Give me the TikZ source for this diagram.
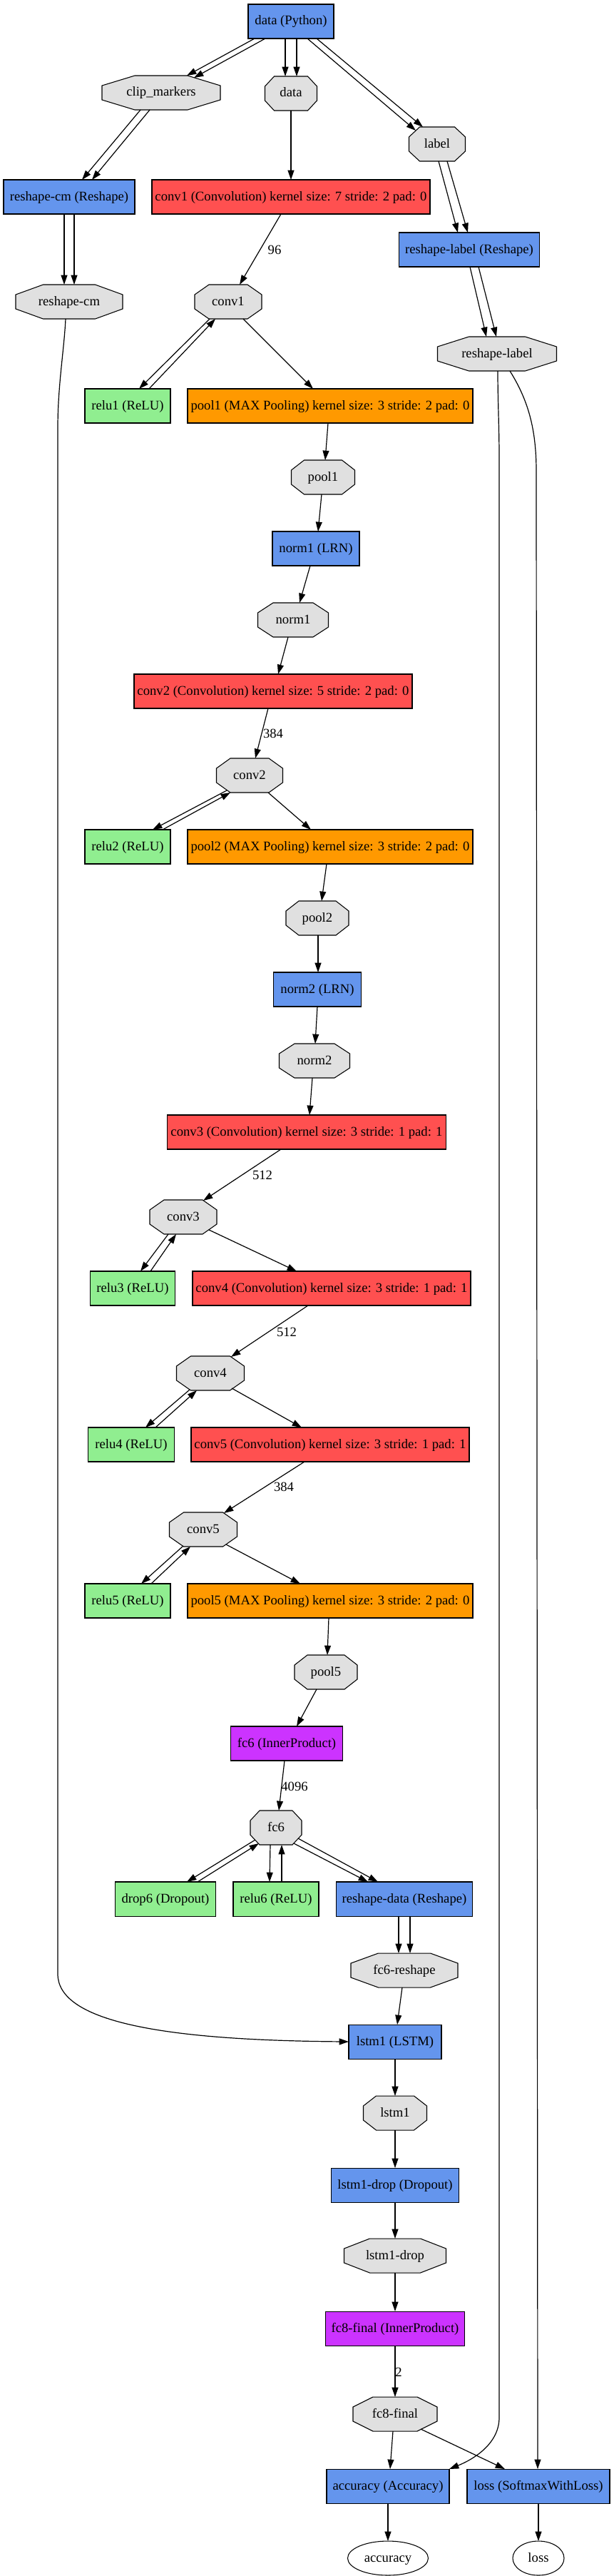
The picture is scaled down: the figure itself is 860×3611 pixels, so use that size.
\documentclass[tikz,border=0pt]{standalone}
\usepackage{fontspec}
\setmainfont{Liberation Serif}
\usetikzlibrary{arrows.meta,calc,shapes.geometric}
\definecolor{convc}{HTML}{FF5050}
\definecolor{poolc}{HTML}{FF9900}
\definecolor{ipc}{HTML}{CC33FF}
\definecolor{otherc}{HTML}{6495ED}
\definecolor{neurc}{HTML}{90EE90}
\definecolor{blobc}{HTML}{E0E0E0}
\pgfdeclarelayer{paper}
\pgfdeclarelayer{octs}
\pgfsetlayers{paper,octs,main}
\tikzset{
  every node/.style={font=\fontsize{14}{16}\selectfont, outer sep=0pt},
  nw/.style={minimum width=#1*0.75pt},
  lay/.style={draw=black, line width=0.8pt, minimum height=36pt, inner xsep=2pt, inner ysep=0pt, text height=10pt, text depth=2.5pt},
  conv/.style={lay, fill=convc},
  pool/.style={lay, fill=poolc},
  ip/.style={lay, fill=ipc},
  other/.style={lay, fill=otherc},
  neur/.style={lay, fill=neurc},
  blob/.style={draw=none, minimum height=36pt, inner xsep=2pt, inner ysep=0pt, text height=10pt, text depth=2.5pt},
  blobline/.style={draw=black, fill=blobc, line width=0.8pt, line join=miter},
  outb/.style={ellipse, draw=black, line width=0.8pt, minimum height=36pt, inner sep=0pt, text height=10pt, text depth=2.5pt},
  elab/.style={inner sep=0pt},
  edge/.style={line width=0.9pt, -{Triangle[length=10pt, width=6.7pt]}},
}
\newcommand\blobshape[2]{\begin{pgfonlayer}{octs}\draw[blobline] ($(#1.north west)+(#2,0)$) -- ($(#1.north east)+(-#2,0)$) -- ($(#1.north east)+(0,14)$) -- ($(#1.south east)+(0,-14)$) -- ($(#1.south east)+(-#2,0)$) -- ($(#1.south west)+(#2,0)$) -- ($(#1.south west)+(0,-14)$) -- ($(#1.north west)+(0,14)$) -- cycle;\end{pgfonlayer}}
\begin{document}
\begin{tikzpicture}[x=0.75pt, y=-0.75pt]
\begin{pgfonlayer}{paper}
\fill[white] (0,0) rectangle (860,3611);
\end{pgfonlayer}
\path[use as bounding box] (0,0) rectangle (860,3611);

% ---- nodes ----
\node[other, nw=120] (dpy) at (408,30) {data (Python)};
\node[blob, nw=166] (clip) at (226,130) {clip\_markers}; \blobshape{clip}{46}
\node[blob, nw=73] (data) at (408,131) {data}; \blobshape{data}{13}
\node[blob, nw=79] (label) at (613,202) {label}; \blobshape{label}{15}
\node[other, nw=184] (rcm) at (97,276) {reshape-cm (Reshape)};
\node[conv, nw=390] (conv1L) at (408,276) {conv1 (Convolution) kernel size: 7 stride: 2 pad: 0};
\node[other, nw=197] (rlab) at (658,350) {reshape-label (Reshape)};
\node[blob, nw=150] (rcmB) at (97,423) {reshape-cm}; \blobshape{rcmB}{38.5}
\node[blob, nw=94] (conv1B) at (320,423) {conv1}; \blobshape{conv1B}{20}
\node[blob, nw=167] (rlabB) at (697,496) {reshape-label}; \blobshape{rlabB}{44}
\node[neur, nw=120] (relu1) at (179,569) {relu1 (ReLU)};
\node[pool, nw=400] (pool1L) at (463,569) {pool1 (MAX Pooling) kernel size: 3 stride: 2 pad: 0};
\node[blob, nw=89] (pool1B) at (453,669) {pool1}; \blobshape{pool1B}{18}
\node[other, nw=122] (norm1L) at (443,769) {norm1 (LRN)};
\node[blob, nw=99] (norm1B) at (411,869) {norm1}; \blobshape{norm1B}{21.5}
\node[conv, nw=390] (conv2L) at (383,969) {conv2 (Convolution) kernel size: 5 stride: 2 pad: 0};
\node[blob, nw=93] (conv2B) at (350,1087) {conv2}; \blobshape{conv2B}{19.5}
\node[neur, nw=120] (relu2) at (179,1187) {relu2 (ReLU)};
\node[pool, nw=400] (pool2L) at (463,1187) {pool2 (MAX Pooling) kernel size: 3 stride: 2 pad: 0};
\node[blob, nw=88] (pool2B) at (445,1287) {pool2}; \blobshape{pool2B}{18}
\node[other, nw=123] (norm2L) at (445,1387) {norm2 (LRN)};
\node[blob, nw=99] (norm2B) at (441,1487) {norm2}; \blobshape{norm2B}{21.5}
\node[conv, nw=391] (conv3L) at (430,1587) {conv3 (Convolution) kernel size: 3 stride: 1 pad: 1};
\node[blob, nw=94] (conv3B) at (257,1706) {conv3}; \blobshape{conv3B}{20}
\node[neur, nw=119] (relu3) at (186,1806) {relu3 (ReLU)};
\node[conv, nw=390] (conv4L) at (465,1806) {conv4 (Convolution) kernel size: 3 stride: 1 pad: 1};
\node[blob, nw=95] (conv4B) at (295,1925) {conv4}; \blobshape{conv4B}{20}
\node[neur, nw=121] (relu4) at (184,2025) {relu4 (ReLU)};
\node[conv, nw=390] (conv5L) at (463,2025) {conv5 (Convolution) kernel size: 3 stride: 1 pad: 1};
\node[blob, nw=95] (conv5B) at (285,2144) {conv5}; \blobshape{conv5B}{20}
\node[neur, nw=120] (relu5) at (179,2244) {relu5 (ReLU)};
\node[pool, nw=400] (pool5L) at (463,2244) {pool5 (MAX Pooling) kernel size: 3 stride: 2 pad: 0};
\node[blob, nw=88] (pool5B) at (457,2344) {pool5}; \blobshape{pool5B}{18}
\node[ip, nw=157] (fc6L) at (402,2444) {fc6 (InnerProduct)};
\node[blob, nw=72] (fc6B) at (387,2562) {fc6}; \blobshape{fc6B}{13}
\node[neur, nw=141] (drop6) at (232,2662) {drop6 (Dropout)};
\node[neur, nw=120] (relu6) at (387,2662) {relu6 (ReLU)};
\node[other, nw=191] (rdata) at (567,2662) {reshape-data (Reshape)};
\node[blob, nw=150] (fc6rB) at (567,2762) {fc6-reshape}; \blobshape{fc6rB}{38.5}
\node[other, nw=130] (lstm1L) at (554,2862) {lstm1 (LSTM)};
\node[blob, nw=89] (lstm1B) at (554,2962) {lstm1}; \blobshape{lstm1B}{18}
\node[other, nw=179] (ldL) at (554,3063) {lstm1-drop (Dropout)};
\node[blob, nw=143] (ldB) at (554,3162) {lstm1-drop}; \blobshape{ldB}{36}
\node[ip, nw=195] (fc8L) at (554,3264) {fc8-final (InnerProduct)};
\node[blob, nw=118] (fc8B) at (554,3384) {fc8-final}; \blobshape{fc8B}{28}
\node[other, nw=172] (accL) at (544,3485) {accuracy (Accuracy)};
\node[other, nw=200] (lossL) at (755,3485) {loss (SoftmaxWithLoss)};
\node[outb, nw=113] (accB) at (544,3586) {accuracy};
\node[outb, nw=72] (lossB) at (755,3586) {loss};

% ---- edge labels ----
\node[elab] (e96) at (385,350) {96};
\node[elab] (e384a) at (383,1028) {384};
\node[elab] (e512a) at (368,1647) {512};
\node[elab] (e512b) at (402,1867) {512};
\node[elab] (e384b) at (398,2084) {384};
\node[elab] (e4096) at (413,2504) {4096};
\node[elab] (e2) at (559,3325) {2};

% ---- helper coordinates ----
\coordinate (cmA) at (81,600);
\coordinate (cmB) at (81,2767);
\coordinate (raA) at (700,640);
\coordinate (raB) at (700,3389);
\coordinate (rlC) at (752,660);

% ---- edges ----
\draw[edge] ($(dpy.south)+(-51,0)$) -- ($(clip.north)+(36,0)$);
\draw[edge] ($(dpy.south)+(-36,0)$) -- ($(clip.north)+(46,3)$);
\draw[edge] ($(dpy.south)+(-8,0)$) -- ($(data.north)+(-8,0)$);
\draw[edge] ($(dpy.south)+(8,0)$) -- ($(data.north)+(8,0)$);
\draw[edge] ($(dpy.south)+(23,0)$) -- ($(label.north)+(-30,5)$);
\draw[edge] ($(dpy.south)+(36,0)$) -- ($(label.north)+(-20,0)$);
\draw[edge] ($(clip.south)+(-29,0)$) -- ($(rcm.north)+(18,0)$);
\draw[edge] ($(clip.south)+(-16,0)$) -- ($(rcm.north)+(32,0)$);
\draw[edge] (data.south) -- (conv1L.north);
\draw[edge] ($(label.south)+(2,0)$) -- ($(rlab.north)+(-16,0)$);
\draw[edge] ($(label.south)+(14,0)$) -- ($(rlab.north)+(-2,0)$);
\draw[edge] ($(rcm.south)+(-7,0)$) -- ($(rcmB.north)+(-7,0)$);
\draw[edge] ($(rcm.south)+(7,0)$) -- ($(rcmB.north)+(7,0)$);
\draw[edge] ($(conv1L.south)+(-14,0)$) -- ($(conv1B.north)+(16,0)$);
\draw[edge] ($(rlab.south)+(1,0)$) -- ($(rlabB.north)+(-15,0)$);
\draw[edge] ($(rlab.south)+(13,0)$) -- ($(rlabB.north)+(-1,0)$);
\draw[edge] ($(rcmB.south)+(-5,0)$) .. controls (90,490) and (81,540) .. (cmA) -- (cmB) .. controls (81,2832) and (220,2860) .. (lstm1L.west);
\draw[edge] ($(conv1B.south)+(-26,0)$) -- ($(relu1.north)+(16,0)$);
\draw[edge] ($(relu1.north)+(30,0)$) -- ($(conv1B.south)+(-18,0)$);
\draw[edge] ($(conv1B.south)+(21,0)$) -- ($(pool1L.north)+(-24,0)$);
\draw[edge] ($(pool1L.south)+(-3,0)$) -- ($(pool1B.north)+(3,0)$);
\draw[edge] ($(pool1B.south)+(-2,0)$) -- ($(norm1L.north)+(3,0)$);
\draw[edge] ($(norm1L.south)+(-8,0)$) -- ($(norm1B.north)+(9,0)$);
\draw[edge] ($(norm1B.south)+(-7,0)$) -- ($(conv2L.north)+(7,0)$);
\draw[edge] ($(conv2L.south)+(-7,0)$) -- ($(conv2B.north)+(8,0)$);
\draw[edge] ($(conv2B.south)+(-32,-3)$) -- ($(relu2.north)+(35,0)$);
\draw[edge] ($(relu2.north)+(49,0)$) -- ($(conv2B.south)+(-27,0)$);
\draw[edge] ($(conv2B.south)+(26,0)$) -- ($(pool2L.north)+(-27,0)$);
\draw[edge] ($(pool2L.south)+(-5,0)$) -- ($(pool2B.north)+(6,0)$);
\draw[edge] ($(pool2B.south)+(1,0)$) -- ($(norm2L.north)+(1,0)$);
\draw[edge] (norm2L.south) -- ($(norm2B.north)+(1,0)$);
\draw[edge] ($(norm2B.south)+(-3,0)$) -- ($(conv3L.north)+(4,0)$);
\draw[edge] ($(conv3L.south)+(-36,0)$) -- ($(conv3B.north)+(28,1)$);
\draw[edge] ($(conv3B.south)+(-21,0)$) -- ($(relu3.north)+(11,0)$);
\draw[edge] ($(relu3.north)+(25,0)$) -- ($(conv3B.south)+(-10,0)$);
\draw[edge] ($(conv3B.south)+(36,-6)$) -- ($(conv4L.north)+(-49,0)$);
\draw[edge] ($(conv4L.south)+(-33,0)$) -- ($(conv4B.north)+(29,1)$);
\draw[edge] ($(conv4B.south)+(-29,-1)$) -- ($(relu4.north)+(20,0)$);
\draw[edge] ($(relu4.north)+(34,0)$) -- ($(conv4B.south)+(-19,0)$);
\draw[edge] ($(conv4B.south)+(30,-3)$) -- ($(conv5L.north)+(-40,0)$);
\draw[edge] ($(conv5L.south)+(-36,0)$) -- ($(conv5B.north)+(29,1)$);
\draw[edge] ($(conv5B.south)+(-28,-1)$) -- ($(relu5.north)+(19,0)$);
\draw[edge] ($(relu5.north)+(33,0)$) -- ($(conv5B.south)+(-18,0)$);
\draw[edge] ($(conv5B.south)+(32,-3)$) -- ($(pool5L.north)+(-42,0)$);
\draw[edge] ($(pool5L.south)+(-2,0)$) -- ($(pool5B.north)+(2,0)$);
\draw[edge] ($(pool5B.south)+(-13,0)$) -- ($(fc6L.north)+(14,0)$);
\draw[edge] ($(fc6L.south)+(-3,0)$) -- ($(fc6B.north)+(4,0)$);
\draw[edge] ($(fc6B.south)+(-29,-7)$) -- ($(drop6.north)+(30,0)$);
\draw[edge] ($(drop6.north)+(45,0)$) -- ($(fc6B.south)+(-24,-2)$);
\draw[edge] ($(fc6B.south)+(-8,0)$) -- ($(relu6.north)+(-9,0)$);
\draw[edge] ($(relu6.north)+(8,0)$) -- ($(fc6B.south)+(8,0)$);
\draw[edge] ($(fc6B.south)+(25,-2)$) -- ($(rdata.north)+(-51,0)$);
\draw[edge] ($(fc6B.south)+(31,-9)$) -- ($(rdata.north)+(-37,0)$);
\draw[edge] ($(rdata.south)+(-8,0)$) -- ($(fc6rB.north)+(-8,0)$);
\draw[edge] ($(rdata.south)+(8,0)$) -- ($(fc6rB.north)+(8,0)$);
\draw[edge] ($(fc6rB.south)+(-3,0)$) -- ($(lstm1L.north)+(3,0)$);
\draw[edge] (lstm1L.south) -- (lstm1B.north);
\draw[edge] (lstm1B.south) -- (ldL.north);
\draw[edge] (ldL.south) -- (ldB.north);
\draw[edge] (ldB.south) -- (fc8L.north);
\draw[edge] (fc8L.south) -- (fc8B.north);
\draw[edge] ($(fc8B.south)+(-3,0)$) -- ($(accL.north)+(3,0)$);
\draw[edge] ($(fc8B.south)+(36,-3)$) -- ($(lossL.north)+(-47,0)$);
\draw[edge] ($(rlabB.south)+(1,0)$) .. controls (698,560) and (700,600) .. (raA) -- (raB) .. controls (700,3425) and (665,3447) .. (accL.north east);
\draw[edge] ($(rlabB.south)+(18,0)$) .. controls (740,560) and (752,600) .. (rlC) -- ($(lossL.north)+(-1,0)$);
\draw[edge] (accL.south) -- (accB.north);
\draw[edge] (lossL.south) -- (lossB.north);
\end{tikzpicture}
\end{document}
